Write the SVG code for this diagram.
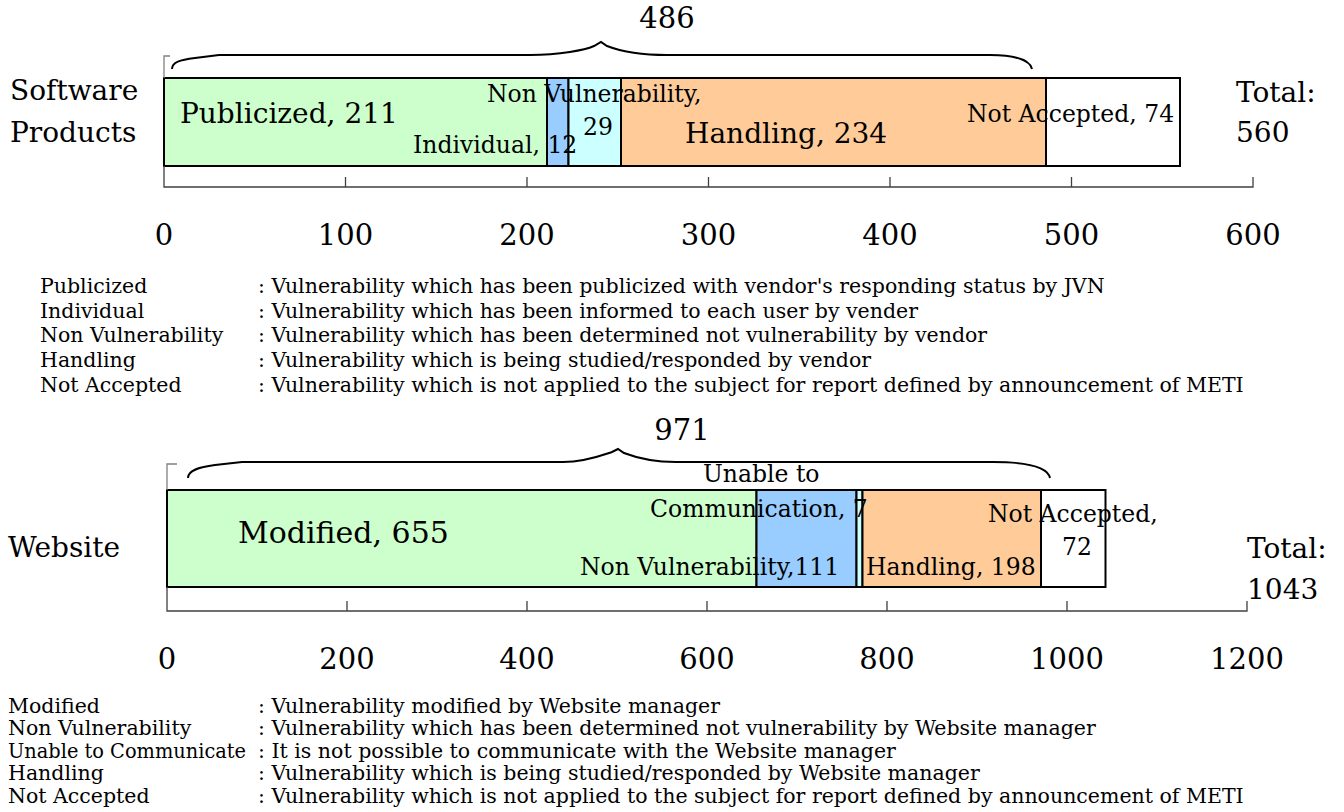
<svg xmlns="http://www.w3.org/2000/svg" width="1344" height="812" viewBox="0 0 1344 812">
<style>
text{font-family:"DejaVu Serif","Liberation Serif",serif;fill:#000}
.big{font-size:28px}
.mid{font-size:23.5px}
.ax{font-size:29px;text-anchor:middle}
.lg{font-size:20.5px}
.seg{stroke:#000;stroke-width:2}
.axis{stroke:#404040;stroke-width:1.3;fill:none}
.brace{stroke:#000;stroke-width:2;fill:none}
.brk{stroke:#808080;stroke-width:1.3;fill:none}
</style>
<rect width="1344" height="812" fill="#fff"/>

<g id="software-products">
  <rect class="seg" x="164" y="78" width="383" height="88" fill="#CCFFCC"/>
  <rect class="seg" x="547" y="78" width="21.5" height="88" fill="#99CCFF"/>
  <rect class="seg" x="568.5" y="78" width="52.5" height="88" fill="#CCFFFF"/>
  <rect class="seg" x="621" y="78" width="425" height="88" fill="#FFCC99"/>
  <rect class="seg" x="1046" y="78" width="134" height="88" fill="#FFFFFF"/>
  <text class="big" x="10" y="100">Software</text>
  <text class="big" x="10" y="142">Products</text>
  <text class="big" x="180" y="123">Publicized, 211</text>
  <text class="mid" x="487" y="102">Non Vulnerability,</text>
  <text class="mid" x="583" y="135">29</text>
  <text class="mid" x="413" y="153">Individual, 12</text>
  <text class="big" x="685" y="143">Handling, 234</text>
  <text class="mid" x="967" y="122">Not Accepted, 74</text>
  <text class="big" x="1236" y="102">Total:</text>
  <text class="big" x="1236" y="142">560</text>
  <text class="ax" x="667" y="28">486</text>
</g>

<g id="website">
  <rect class="seg" x="167" y="490" width="589.5" height="97" fill="#CCFFCC"/>
  <rect class="seg" x="756.5" y="490" width="100" height="97" fill="#99CCFF"/>
  <rect class="seg" x="856.5" y="490" width="6" height="97" fill="#CCFFFF"/>
  <rect class="seg" x="862.5" y="490" width="178.5" height="97" fill="#FFCC99"/>
  <rect class="seg" x="1041" y="490" width="64.5" height="97" fill="#FFFFFF"/>
  <text class="big" x="8" y="557">Website</text>
  <text class="big" x="238" y="543" style="font-size:30px">Modified, 655</text>
  <text class="mid" x="703" y="482">Unable to</text>
  <text class="mid" x="650" y="517">Communication, 7</text>
  <text class="mid" x="988" y="522">Not Accepted,</text>
  <text class="mid" x="1062" y="555">72</text>
  <text class="mid" x="580" y="575">Non Vulnerability,111</text>
  <text class="mid" x="866" y="575">Handling, 198</text>
  <text class="big" x="1247" y="558">Total:</text>
  <text class="big" x="1247" y="599">1043</text>
  <text class="ax" x="682" y="440">971</text>
</g>

<g id="connectors">
  <path class="brace" d="M172,69 C172,62 180,60 195,58 L219,55 L530,55 C560,55 585,50 594,46 L601,42 L607,46 C620,51 640,55 667,55 L990,55 C1015,55 1030,60 1032,69"/>
  <path class="brk" d="M170,56 L164,56 L164,78"/>
  <path class="axis" d="M164,166 L164,187 L1253,187 L1253,177 M345.5,187 V177 M527,187 V177 M708.5,187 V177 M890,187 V177 M1071.5,187 V177"/>
  <path class="brace" d="M188,478 C188,470 200,467 215,465 L242,462 L563,462 C585,462 603,455 612,452 L618,449 L624,453 C637,458 652,462 676,462 L993,462 C1030,462 1048,468 1050,478"/>
  <path class="brk" d="M177,464 L167,464 L167,490"/>
  <path class="axis" d="M167,587 L167,611 L1247,611 L1247,601 M347,611 V601 M527,611 V601 M707,611 V601 M887,611 V601 M1067,611 V601"/>
</g>

<g id="axis-labels">
  <text class="ax" x="164" y="245">0</text>
  <text class="ax" x="345.5" y="245">100</text>
  <text class="ax" x="527" y="245">200</text>
  <text class="ax" x="708.5" y="245">300</text>
  <text class="ax" x="890" y="245">400</text>
  <text class="ax" x="1071.5" y="245">500</text>
  <text class="ax" x="1253" y="245">600</text>
  <text class="ax" x="167" y="669">0</text>
  <text class="ax" x="347" y="669">200</text>
  <text class="ax" x="527" y="669">400</text>
  <text class="ax" x="707" y="669">600</text>
  <text class="ax" x="887" y="669">800</text>
  <text class="ax" x="1067" y="669">1000</text>
  <text class="ax" x="1247" y="669">1200</text>
</g>

<g id="legend-software">
  <text class="lg" x="40" y="293">Publicized</text>
  <text class="lg" x="258" y="293">: Vulnerability which has been publicized with vendor's responding status by JVN</text>
  <text class="lg" x="40" y="318">Individual</text>
  <text class="lg" x="258" y="318">: Vulnerability which has been informed to each user by vender</text>
  <text class="lg" x="40" y="342">Non Vulnerability</text>
  <text class="lg" x="258" y="342">: Vulnerability which has been determined not vulnerability by vendor</text>
  <text class="lg" x="40" y="367">Handling</text>
  <text class="lg" x="258" y="367">: Vulnerability which is being studied/responded by vendor</text>
  <text class="lg" x="40" y="392">Not Accepted</text>
  <text class="lg" x="258" y="392">: Vulnerability which is not applied to the subject for report defined by announcement of METI</text>
</g>

<g id="legend-website">
  <text class="lg" x="8" y="713">Modified</text>
  <text class="lg" x="258" y="713">: Vulnerability modified by Website manager</text>
  <text class="lg" x="8" y="735">Non Vulnerability</text>
  <text class="lg" x="258" y="735">: Vulnerability which has been determined not vulnerability by Website manager</text>
  <text class="lg" x="8" y="758" textLength="238" lengthAdjust="spacingAndGlyphs">Unable to Communicate</text>
  <text class="lg" x="258" y="758">: It is not possible to communicate with the Website manager</text>
  <text class="lg" x="8" y="780">Handling</text>
  <text class="lg" x="258" y="780">: Vulnerability which is being studied/responded by Website manager</text>
  <text class="lg" x="8" y="803">Not Accepted</text>
  <text class="lg" x="258" y="803">: Vulnerability which is not applied to the subject for report defined by announcement of METI</text>
</g>
</svg>
